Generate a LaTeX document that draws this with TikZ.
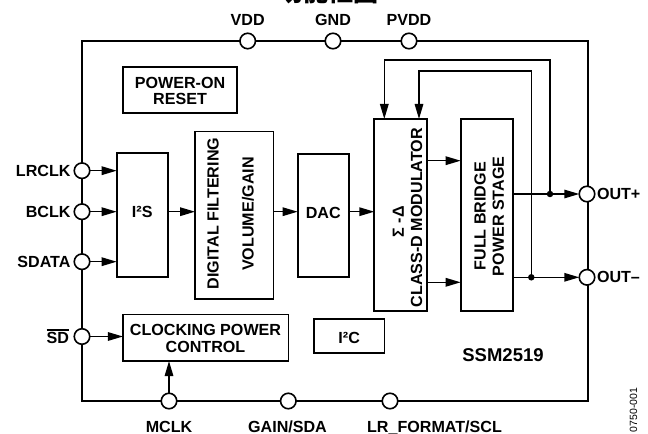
\documentclass[tikz,border=0pt]{standalone}
\usepackage{fontspec}
\setmainfont{Liberation Sans}
\newfontfamily\cjkfont{Noto Sans CJK SC}
\usetikzlibrary{arrows.meta}
\newcommand\ovbar[1]{\setbox0\hbox{#1}\rlap{\smash{\rule[\dimexpr\ht0+1.8bp\relax]{\wd0}{1.3bp}}}#1}
\begin{document}
\begin{tikzpicture}[x=1bp,y=-1bp,
  lbl/.style={font=\bfseries\fontsize{16.1bp}{16.5bp}\selectfont, inner sep=0pt, outer sep=0pt, align=center},
  blk/.style={draw, line width=1.7bp, inner sep=0pt, outer sep=0pt},
  pinc/.style={circle, draw, fill=white, line width=1.6bp, minimum size=15.5bp, inner sep=0pt, outer sep=0pt},
  wire/.style={line width=1.5bp},
  arr/.style={wire, -{Triangle[length=15bp,width=8.5bp]}},
  jdot/.style={circle, fill, minimum size=6.5bp, inner sep=0pt, outer sep=0pt}]
\useasboundingbox (0,0) rectangle (648,434);
% partially visible title
\begin{scope}
\clip (0,0) rectangle (648,434);
\node[font=\cjkfont\bfseries\fontsize{25bp}{25bp}\selectfont, anchor=base, inner sep=0pt] (title) at (328,2) {功能框图};
\end{scope}
% chip outline
\node[draw, line width=2.2bp, minimum width=506bp, minimum height=360bp, inner sep=0pt, outer sep=0pt] (chip) at (335,221) {};
% pins
\node[pinc] (vdd) at (247.7,41) {};
\node[pinc] (gnd) at (333,41) {};
\node[pinc] (pvdd) at (409,41) {};
\node[pinc] (lrclk) at (82,170.7) {};
\node[pinc] (bclk) at (82,211.7) {};
\node[pinc] (sdata) at (82,261.7) {};
\node[pinc] (sd) at (82,336.5) {};
\node[pinc] (mclk) at (169,401) {};
\node[pinc] (gain) at (288.3,401) {};
\node[pinc] (lrfmt) at (390,401) {};
\node[pinc] (outp) at (587,194) {};
\node[pinc] (outm) at (587,277.3) {};
% pin labels
\node[lbl, anchor=base] (vddl) at (247.7,25.5) {VDD};
\node[lbl, anchor=base] (gndl) at (333,25.5) {GND};
\node[lbl, anchor=base] (pvddl) at (409,25.5) {PVDD};
\node[lbl, anchor=east] (lrclkl) at (70.5,170.7) {LRCLK};
\node[lbl, anchor=east] (bclkl) at (70.5,211.7) {BCLK};
\node[lbl, anchor=east] (sdatal) at (70.5,261.7) {SDATA};
\node[lbl, anchor=base east] (sdl) at (69,343.8) {\ovbar{SD}};
\node[lbl, anchor=west] (outpl) at (597,194) {OUT+};
\node[lbl, anchor=west] (outml) at (597,277.3) {OUT–};
\node[lbl, anchor=base] (mclkl) at (169,432) {MCLK};
\node[lbl, anchor=base] (gainl) at (287.5,432) {GAIN/SDA};
\node[lbl, anchor=base] (lrfmtl) at (434.5,432) {LR\_FORMAT/SCL};
% blocks
\node[blk, minimum width=114bp, minimum height=46bp] (por) at (180,90) {};
\node[lbl, font=\bfseries\fontsize{16.1bp}{16bp}\selectfont] (porl) at (180,91.3) {POWER-ON\\RESET};
\node[blk, minimum width=51bp, minimum height=123.4bp] (i2s) at (142.2,215) {};
\node[lbl, anchor=base] (i2sl) at (142.2,217.5) {I²S};
\node[blk, minimum width=78.3bp, minimum height=167.3bp] (dfilt) at (234.2,215.3) {};
\node[lbl, rotate=90] (dfl1) at (213,213.5) {DIGITAL FILTERING};
\node[lbl, rotate=90] (dfl2) at (248,214) {VOLUME/GAIN};
\node[blk, minimum width=51.3bp, minimum height=122.7bp] (dac) at (323.3,215.3) {};
\node[lbl] (dacl) at (323.3,213.3) {DAC};
\node[blk, minimum width=53bp, minimum height=192bp] (mod) at (400.8,215) {};
\node[lbl, rotate=90] (modl1) at (398.3,221.7) {Σ -Δ};
\node[lbl, rotate=90] (modl2) at (416.7,217.5) {CLASS-D MODULATOR};
\node[blk, minimum width=52.6bp, minimum height=192bp] (fb) at (487,215) {};
\node[lbl, rotate=90, font=\bfseries\fontsize{16.1bp}{18.3bp}\selectfont] (fbl) at (489.2,216.3) {FULL BRIDGE\\POWER STAGE};
\node[blk, minimum width=165.6bp, minimum height=46.5bp] (clk) at (205.7,337.8) {};
\node[lbl] (clkl) at (205.5,338.7) {CLOCKING POWER\\CONTROL};
\node[blk, minimum width=70.3bp, minimum height=34bp] (i2c) at (349.2,336.3) {};
\node[lbl, anchor=base] (i2cl) at (349.2,343.2) {I²C};
\node[lbl, font=\bfseries\fontsize{18.5bp}{20bp}\selectfont] (part) at (503,355) {SSM2519};
\node[rotate=90, inner sep=0pt, font=\fontsize{10.5bp}{12bp}\selectfont] (fig) at (633.5,410) {0750-001};
% connectors
\coordinate (busy) at (0,211.7);
\coordinate (rowa) at (0,160.7);
\coordinate (rowb) at (0,282.3);
\draw[arr] (lrclk.east) -- (lrclk -| i2s.west);
\draw[arr] (bclk.east) -- (bclk -| i2s.west);
\draw[arr] (sdata.east) -- (sdata -| i2s.west);
\draw[arr] (i2s.east |- busy) -- (dfilt.west |- busy);
\draw[arr] (dfilt.east |- busy) -- (dac.west |- busy);
\draw[arr] (dac.east |- busy) -- (mod.west |- busy);
\draw[arr] (mod.east |- rowa) -- (fb.west |- rowa);
\draw[arr] (mod.east |- rowb) -- (fb.west |- rowb);
\draw[arr] (fb.east |- outp) -- (outp.west);
\draw[arr] (fb.east |- outm) -- (outm.west);
\node[jdot] (dp) at (550,194) {};
\node[jdot] (dm) at (531.3,277.3) {};
\coordinate (fba) at (384.3,60);
\coordinate (fbb) at (419,71);
\draw[arr] (dp.center) |- (fba) -- (fba |- mod.north);
\draw[arr] (dm.center) |- (fbb) -- (fbb |- mod.north);
\draw[arr] (sd.east) -- (sd -| clk.west);
\draw[arr] (mclk.north) -- (mclk |- clk.south);
\end{tikzpicture}
\end{document}
